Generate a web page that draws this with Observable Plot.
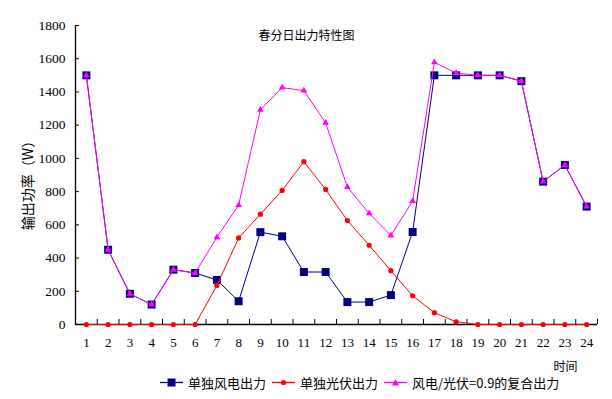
<!DOCTYPE html>
<html><head><meta charset="utf-8">
<script src="https://cdn.jsdelivr.net/npm/d3@7"></script>
<script src="https://cdn.jsdelivr.net/npm/@observablehq/plot@0.6"></script>
<style>
body{margin:0;background:#fff;}
#wrap{position:relative;width:612px;height:399px;overflow:hidden;}
#legend{position:absolute;top:372px;left:0;width:612px;height:20px;font-family:"Noto Sans CJK SC";font-size:13px;color:#000;}
#legend .item{position:absolute;top:0;height:20px;display:flex;align-items:center;white-space:nowrap;}
#legend svg{margin-right:5px;}
</style></head><body><div id="wrap"></div>
<script>
const hours = [1,2,3,4,5,6,7,8,9,10,11,12,13,14,15,16,17,18,19,20,21,22,23,24];
const wind = [1500,450,185,120,330,310,268,140,556,531,316,316,135,135,177,557,1500,1500,1500,1500,1465,860,960,710];
const solar = [0,0,0,0,0,0,235,521,664,807,980,813,626,477,324,173,71,16,0,0,0,0,0,0];
const combined = [1500,450,185,120,330,310,525,719,1293,1426,1408,1214,827,669,536,743,1578,1514,1500,1500,1465,860,960,710];
const yTicks = [0,200,400,600,800,1000,1200,1400,1600,1800];
const xBounds = [0.5,1.5,2.5,3.5,4.5,5.5,6.5,7.5,8.5,9.5,10.5,11.5,12.5,13.5,14.5,15.5,16.5,17.5,18.5,19.5,20.5,21.5,22.5,23.5,24.5];
const seriesNames = ["单独风电出力","单独光伏出力","风电/光伏=0.9的复合出力"];
const seriesColors = ["#000080","#FF0000","#FF00FF"];
const titleText = "春分日出力特性图";
const yLabel = "输出功率（W）";
const xLabel = "时间";

const rows = (vals) => hours.map((h,i) => ({h, v: vals[i]}));
const windData = rows(wind), solarData = rows(solar), combData = rows(combined);
const serif = "Liberation Serif";

const chart = Plot.plot({
  width: 612, height: 399,
  marginLeft: 75, marginRight: 15, marginTop: 25, marginBottom: 75,
  style: {background: "#fff", overflow: "visible", color: "#000"},
  x: {type: "linear", domain: [0.5, 24.5]},
  y: {domain: [0, 1800]},
  marks: [
    Plot.axisY({ticks: yTicks, tickSize: 0, tickPadding: 10, label: null, tickFormat: d => String(d), fontFamily: serif, fontSize: 13.5}),
    Plot.ruleY(yTicks, {y: d => d, x1: 0.5, x2: 0.68, stroke: "#000", strokeWidth: 1}),
    Plot.axisX({ticks: hours, tickSize: 0, tickPadding: 13, label: null, tickFormat: d => String(d), fontFamily: serif, fontSize: 13}),
    Plot.ruleX(xBounds, {x: d => d, y1: 0, y2: 30, stroke: "#000", strokeWidth: 1}),
    Plot.ruleX([0.5], {stroke: "#000", strokeWidth: 1.3}),
    Plot.ruleY([0], {stroke: "#000", strokeWidth: 1.3}),
    Plot.line(windData, {x: "h", y: "v", stroke: seriesColors[0], strokeWidth: 1}),
    Plot.dot(windData, {x: "h", y: "v", symbol: "square", r: 4.5, fill: seriesColors[0], stroke: "none"}),
    Plot.line(solarData, {x: "h", y: "v", stroke: seriesColors[1], strokeWidth: 1}),
    Plot.dot(solarData, {x: "h", y: "v", r: 2.6, fill: seriesColors[1], stroke: "none"}),
    Plot.line(combData, {x: "h", y: "v", stroke: seriesColors[2], strokeWidth: 1}),
    Plot.dot(combData, {x: "h", y: "v", symbol: "triangle", r: 2.5, fill: seriesColors[2], stroke: "none"}),
    Plot.text([titleText], {frameAnchor: "top", dx: -30, dy: 6, fontFamily: "Noto Sans CJK SC", fontSize: 12, fill: "#000", style: "letter-spacing:1.8px"}),
    Plot.text([yLabel], {frameAnchor: "left", textAnchor: "middle", dx: -47, dy: 7, rotate: -90, fontFamily: "Noto Sans CJK SC", fontSize: 14, fill: "#000"}),
    Plot.text([xLabel], {frameAnchor: "bottom-right", dx: -32, dy: 46, textAnchor: "middle", fontFamily: "Noto Sans CJK SC", fontSize: 12, fill: "#000"})
  ]
});
const wrap = document.getElementById("wrap");
wrap.appendChild(chart);

// legend
const legend = document.createElement("div");
legend.id = "legend";
const lefts = [160, 272, 384];
const symbols = ["square","circle","triangle"];
seriesNames.forEach((name, i) => {
  const item = document.createElement("div");
  item.className = "item";
  item.style.left = lefts[i] + "px";
  let sym = "";
  if (symbols[i] === "square") sym = `<rect x="7.5" y="5.5" width="8" height="8" fill="${seriesColors[i]}"/>`;
  else if (symbols[i] === "circle") sym = `<circle cx="11.5" cy="9.5" r="2.6" fill="${seriesColors[i]}"/>`;
  else sym = `<path d="M11.5,6 L15,12.5 L8,12.5 Z" fill="${seriesColors[i]}"/>`;
  item.innerHTML = `<svg width="23" height="19"><line x1="0" x2="23" y1="9.5" y2="9.5" stroke="${seriesColors[i]}" stroke-width="1.3"/>${sym}</svg><span>${name}</span>`;
  legend.appendChild(item);
});
wrap.appendChild(legend);
</script></body></html>
